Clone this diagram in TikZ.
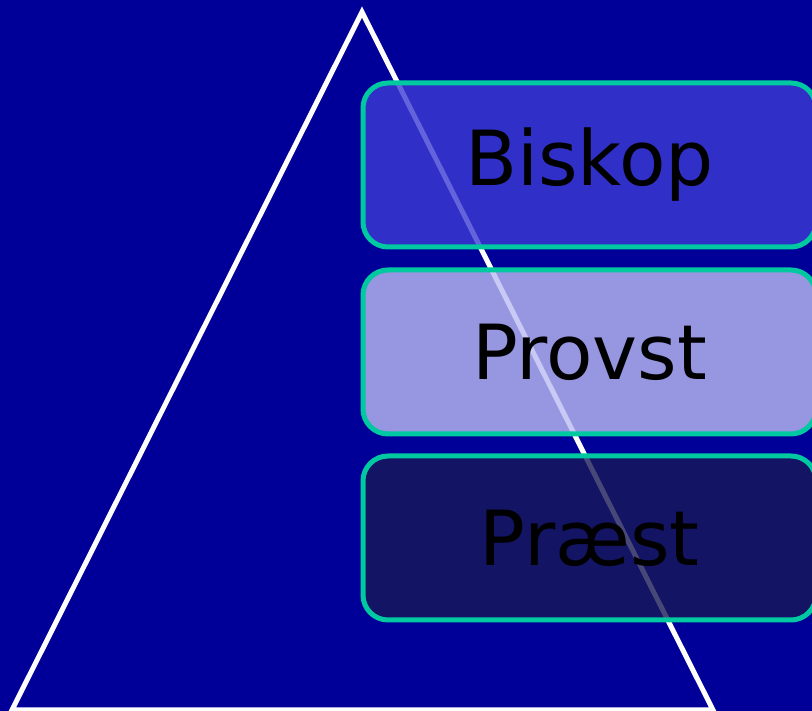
\documentclass[tikz,border=0pt]{standalone}
\usepackage{fontspec}
\setmainfont{DejaVu Sans}
\usetikzlibrary{positioning}

\definecolor{bgblue}{RGB}{0,0,153}
\definecolor{rimteal}{RGB}{0,200,160}
\definecolor{topfill}{RGB}{60,60,212}
\definecolor{midfill}{RGB}{188,188,243}
\definecolor{lowfill}{RGB}{25,25,87}

\tikzset{
  rankbox/.style={draw=rimteal, line width=5pt, rounded corners=25pt,
    minimum width=453pt, minimum height=164pt, fill opacity=0.8,
    text opacity=1, inner sep=0pt,
    font=\fontsize{76}{82}\selectfont},
}

\begin{document}
\begin{tikzpicture}[x=1pt,y=1pt]
  \useasboundingbox (0,0) rectangle (812,711);
  \fill [bgblue] (0,0) rectangle (812,711);

  % the pyramid behind the ranks
  \coordinate (apex) at (362,699);
  \coordinate (baseL) at (12,1);
  \coordinate (baseR) at (713,1);
  \draw [white, line width=5pt, line join=miter] (apex) -- (baseL) -- (baseR) -- cycle;

  % the three ranks
  \node (biskop) [rankbox, fill=topfill] at (589.5,546) {Biskop};
  \node (provst) [rankbox, fill=midfill] at (589.5,359) {Provst};
  \node (praest) [rankbox, fill=lowfill] at (589.5,173) {Præst};
\end{tikzpicture}
\end{document}
